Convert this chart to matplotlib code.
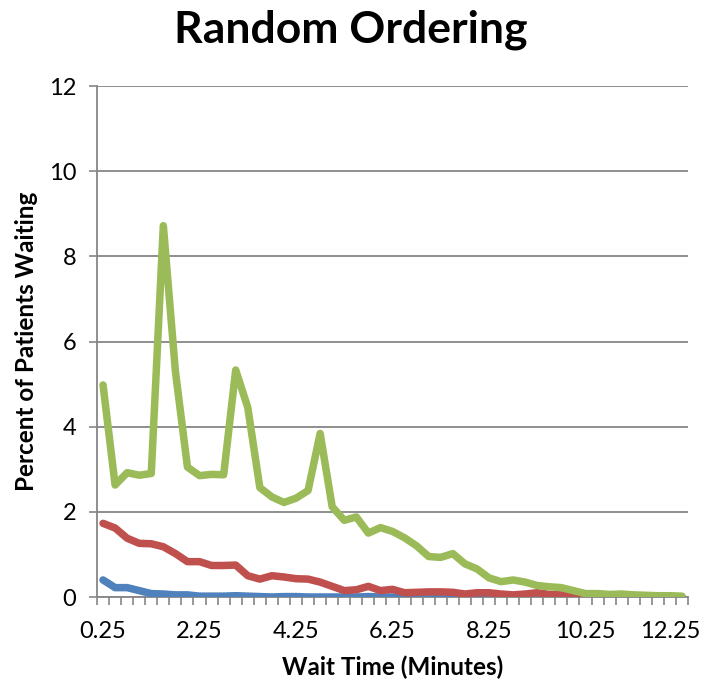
import matplotlib
matplotlib.use("Agg")
import matplotlib.pyplot as plt
import matplotlib.transforms as mtransforms
import numpy as np

wait_times = [0.25, 0.5, 0.75, 1.0, 1.25, 1.5, 1.75, 2.0, 2.25, 2.5, 2.75, 3.0, 3.25, 3.5,
              3.75, 4.0, 4.25, 4.5, 4.75, 5.0, 5.25, 5.5, 5.75, 6.0, 6.25, 6.5, 6.75, 7.0,
              7.25, 7.5, 7.75, 8.0, 8.25, 8.5, 8.75, 9.0, 9.25, 9.5, 9.75, 10.0, 10.25,
              10.5, 10.75, 11.0, 11.25, 11.5, 11.75, 12.0, 12.25]
tick_labels = ["0.25", "2.25", "4.25", "6.25", "8.25", "10.25", "12.25"]

blue = [0.40, 0.22, 0.22, 0.15, 0.08, 0.07, 0.05, 0.05, 0.02, 0.02, 0.02, 0.03, 0.02, 0.01,
        0.00, 0.01, 0.01, 0.00, 0.00, 0.00, 0.00, 0.00, 0.01, 0.00, 0.00, 0.00, 0.01, 0.00,
        0.00, 0.00, 0.01, 0.00, 0.00, 0.01, 0.01, 0.04, 0.00, 0.00, 0.00, 0.00, 0.00,
        0.00, 0.00, 0.00, 0.00, 0.00, 0.00, 0.00, 0.00]
red = [1.73, 1.62, 1.38, 1.26, 1.25, 1.18, 1.02, 0.83, 0.83, 0.74, 0.74, 0.75, 0.50, 0.42,
       0.50, 0.47, 0.43, 0.42, 0.35, 0.25, 0.15, 0.17, 0.25, 0.15, 0.18, 0.10, 0.11, 0.12,
       0.12, 0.11, 0.07, 0.10, 0.10, 0.07, 0.05, 0.07, 0.10, 0.06, 0.05, 0.03, 0.02,
       0.02, 0.01, 0.01, 0.01, 0.01, 0.01, 0.00, 0.00]
green = [4.98, 2.63, 2.92, 2.86, 2.90, 8.72, 5.30, 3.05, 2.85, 2.88, 2.87, 5.33, 4.45, 2.57,
         2.35, 2.22, 2.32, 2.50, 3.84, 2.12, 1.80, 1.88, 1.50, 1.63, 1.54, 1.39, 1.20, 0.95,
         0.93, 1.02, 0.78, 0.66, 0.45, 0.36, 0.40, 0.35, 0.27, 0.24, 0.22, 0.15, 0.08,
         0.08, 0.06, 0.07, 0.05, 0.04, 0.03, 0.03, 0.02]

fig = plt.figure(figsize=(7.01, 6.85), dpi=100)
ax = fig.add_axes([97/701, 1-597/685, (688-97)/701, (597-86)/685])

x = np.arange(len(wait_times))
lw = 5.4
ax.plot(x, blue, color="#4F81BD", lw=lw, solid_joinstyle="round", solid_capstyle="round", zorder=3)
ax.plot(x, red, color="#C0504D", lw=lw, solid_joinstyle="round", solid_capstyle="round", zorder=4)
ax.plot(x, green, color="#9BBB59", lw=lw, solid_joinstyle="round", solid_capstyle="round", zorder=5)

ax.set_xlim(-0.5, len(wait_times) - 0.5)
ax.set_ylim(0, 12)
ax.set_yticks([0, 2, 4, 6, 8, 10, 12])
ax.yaxis.grid(True, color="#868686", lw=1.3)
ax.set_axisbelow(True)

label_pos = [wait_times.index(float(t)) for t in tick_labels]
ax.set_xticks(label_pos)
ax.set_xticklabels(tick_labels)
ax.set_xticks(np.arange(-0.5, len(wait_times)), minor=True)
ax.tick_params(axis="x", which="major", length=0, pad=17, labelsize=17)
ax.tick_params(axis="x", which="minor", length=6, width=1.2, color="#868686", direction="out")
ax.tick_params(axis="y", which="major", length=6, width=1.2, color="#868686", labelsize=17, pad=9)

for s in ["top", "right"]:
    ax.spines[s].set_visible(False)
for s in ["left", "bottom"]:
    ax.spines[s].set_color("#868686")
    ax.spines[s].set_linewidth(1.3)

for lab in ax.get_xticklabels() + ax.get_yticklabels():
    lab.set_fontfamily("Lato")

# shift last x tick label left so it fits inside the figure (as in the reference)
last = ax.get_xticklabels()[-1]
last.set_transform(last.get_transform() + mtransforms.ScaledTranslation(-12/100, 0, fig.dpi_scale_trans))

ax.set_xlabel("Wait Time (Minutes)", fontsize=17.5, fontweight="bold", family="Lato", labelpad=10)
ax.set_ylabel("Percent of Patients Waiting", fontsize=17.5, fontweight="bold", family="Lato", labelpad=8)
fig.text(0.5, 1-30/685, "Random Ordering", ha="center", va="center", fontsize=32,
         fontweight="bold", family="Lato")

fig.savefig("out.png", dpi=100)
